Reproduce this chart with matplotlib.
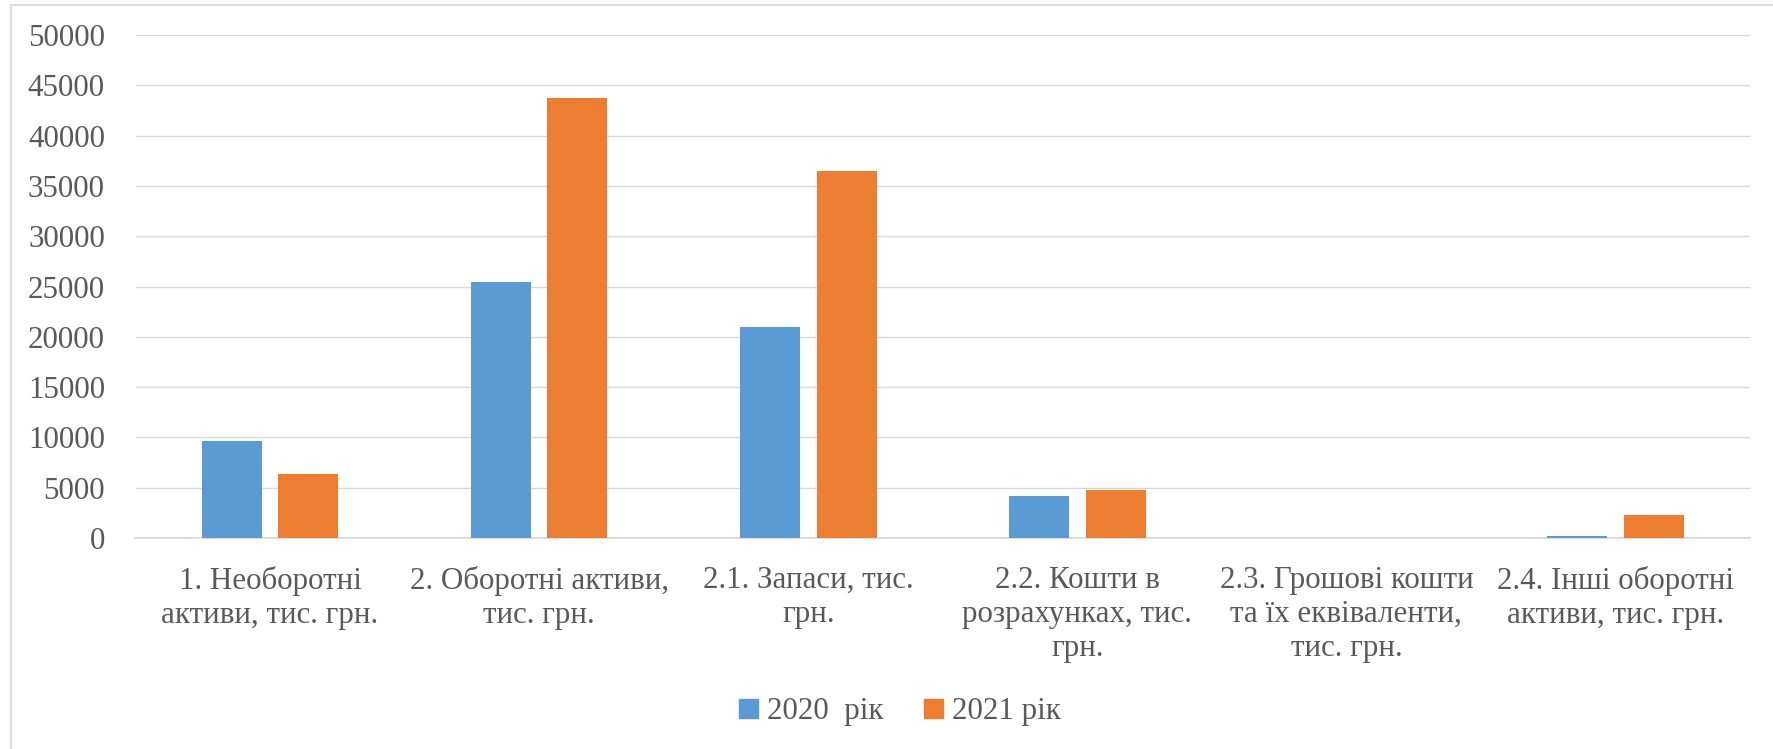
import matplotlib
matplotlib.use("Agg")
import matplotlib.pyplot as plt
from matplotlib.lines import Line2D
import numpy as np

categories = [
    "1. Необоротні\nактиви, тис. грн.",
    "2. Оборотні активи,\nтис. грн.",
    "2.1. Запаси, тис.\nгрн.",
    "2.2. Кошти в\nрозрахунках, тис.\nгрн.",
    "2.3. Грошові кошти\nта їх еквіваленти,\nтис. грн.",
    "2.4. Інші оборотні\nактиви, тис. грн.",
]
values_2020 = [9650, 25450, 21000, 4130, 0, 230]
values_2021 = [6400, 43750, 36500, 4730, 0, 2290]
series_labels = ["2020  рік", "2021 рік"]
y_ticks = [0, 5000, 10000, 15000, 20000, 25000, 30000, 35000, 40000, 45000, 50000]

BLUE = "#5B9BD5"
ORANGE = "#ED7D31"
TEXT = "#595959"
GRID = "#D9D9D9"

plt.rcParams["font.family"] = ["Liberation Serif", "DejaVu Serif"]
FS = 22.3

W, H = 1773, 749
fig = plt.figure(figsize=(W / 100, H / 100), dpi=100)
ax = fig.add_axes([135.5 / W, (H - 538) / H, (1750 - 135.5) / W, 503 / H])

x = np.arange(len(categories))
bw = 0.223
off = 0.1424
ax.bar(x - off, values_2020, bw, color=BLUE, label=series_labels[0], zorder=3)
ax.bar(x + off, values_2021, bw, color=ORANGE, label=series_labels[1], zorder=3)

ax.set_xlim(-0.5, len(categories) - 0.5)
ax.set_ylim(0, 50000)
ax.set_yticks(y_ticks)
ax.set_yticklabels([str(v) for v in y_ticks])
ax.set_xticks(x)
ax.set_xticklabels(categories, linespacing=1.24)
ax.yaxis.grid(True, color=GRID, linewidth=1.0, zorder=0)
ax.tick_params(axis="both", length=0, colors=TEXT, labelsize=FS)
ax.tick_params(axis="y", pad=22)
ax.tick_params(axis="x", pad=20)
for s in ("top", "right", "left"):
    ax.spines[s].set_visible(False)
ax.spines["bottom"].set_color(GRID)
ax.spines["bottom"].set_linewidth(1.3)

handles = [
    plt.Rectangle((0, 0), 1, 1, color=BLUE),
    plt.Rectangle((0, 0), 1, 1, color=ORANGE),
]
fig.legend(handles, series_labels, loc="center", bbox_to_anchor=(900 / W, (H - 712) / H),
           ncol=2, frameon=False, fontsize=FS, labelcolor=TEXT,
           handlelength=0.6, handleheight=0.6, handletextpad=0.3, columnspacing=1.3)

# chart-area frame (left and top edges)
fig.add_artist(Line2D([10.5 / W, 10.5 / W], [0, (H - 4.5) / H], color=GRID, lw=1.3))
fig.add_artist(Line2D([10.5 / W, 1], [(H - 4.5) / H, (H - 4.5) / H], color=GRID, lw=1.3))

fig.savefig("out.png", dpi=100, facecolor="white")
